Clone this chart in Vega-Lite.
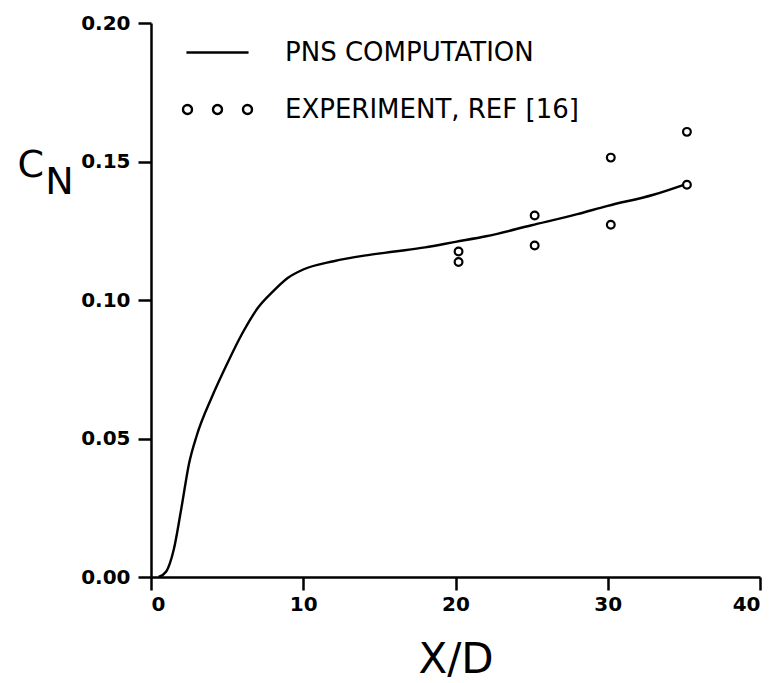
{
  "$schema": "https://vega.github.io/schema/vega-lite/v6.json",
  "autosize": {"type": "none"},
  "padding": {"left": 151, "top": 23, "right": 15, "bottom": 106},
  "width": 609,
  "height": 554,
  "background": "white",
  "config": {
    "view": {"stroke": null},
    "font": "DejaVu Sans",
    "axis": {"domainColor": "black", "domainWidth": 2.5, "tickColor": "black", "tickWidth": 2.5, "tickSize": 13, "grid": false, "labelColor": "black", "titleColor": "black", "labelFont": "DejaVu Sans", "labelFontWeight": "bold", "labelFontSize": 20, "titleFont": "DejaVu Sans", "titleFontWeight": "normal", "titleFontSize": 42}
  },
  "datasets": {
    "pns": [
      {"xd": 0.5, "cn": 0.0},
      {"xd": 1.0, "cn": 0.002},
      {"xd": 1.5, "cn": 0.01},
      {"xd": 2.0, "cn": 0.025},
      {"xd": 2.5, "cn": 0.041},
      {"xd": 3.0, "cn": 0.051},
      {"xd": 4.0, "cn": 0.065},
      {"xd": 5.0, "cn": 0.077},
      {"xd": 6.0, "cn": 0.088},
      {"xd": 7.0, "cn": 0.097},
      {"xd": 8.0, "cn": 0.103},
      {"xd": 9.0, "cn": 0.108},
      {"xd": 10.0, "cn": 0.111},
      {"xd": 12.0, "cn": 0.114},
      {"xd": 14.0, "cn": 0.116},
      {"xd": 16.0, "cn": 0.1175},
      {"xd": 18.0, "cn": 0.119},
      {"xd": 20.0, "cn": 0.121},
      {"xd": 22.0, "cn": 0.123},
      {"xd": 25.0, "cn": 0.127},
      {"xd": 28.0, "cn": 0.131},
      {"xd": 30.0, "cn": 0.134},
      {"xd": 33.0, "cn": 0.138},
      {"xd": 35.0, "cn": 0.1416}
    ],
    "exp": [
      {"xd": 20.2, "cn": 0.1175, "series": "EXPERIMENT, REF [16]"},
      {"xd": 20.2, "cn": 0.1137, "series": "EXPERIMENT, REF [16]"},
      {"xd": 25.2, "cn": 0.1305, "series": "EXPERIMENT, REF [16]"},
      {"xd": 25.2, "cn": 0.1197, "series": "EXPERIMENT, REF [16]"},
      {"xd": 30.2, "cn": 0.1514, "series": "EXPERIMENT, REF [16]"},
      {"xd": 30.2, "cn": 0.1272, "series": "EXPERIMENT, REF [16]"},
      {"xd": 35.2, "cn": 0.1607, "series": "EXPERIMENT, REF [16]"},
      {"xd": 35.2, "cn": 0.1416, "series": "EXPERIMENT, REF [16]"}
    ]
  },
  "layer": [
    {
      "data": {"name": "pns"},
      "mark": {"type": "line", "color": "black", "strokeWidth": 2.4, "interpolate": "monotone"},
      "encoding": {
        "x": {"field": "xd", "type": "quantitative", "scale": {"domain": [0, 40], "nice": false}, "axis": {"values": [0, 10, 20, 30, 40], "labelPadding": 4, "title": "X/D", "titleY": 95, "titleBaseline": "alphabetic"}},
        "y": {"field": "cn", "type": "quantitative", "scale": {"domain": [0, 0.2], "nice": false}, "axis": {"values": [0, 0.05, 0.1, 0.15, 0.2], "format": ".2f", "labelPadding": 8, "title": ["C", "\u2800N"], "titleAngle": 0, "titleAlign": "left", "titleBaseline": "alphabetic", "titleX": -134, "titleY": 153, "titleLineHeight": 17, "titleFontSize": 38}}
      }
    },
    {
      "data": {"name": "exp"},
      "mark": {"type": "point", "shape": "circle", "filled": false, "color": "black", "size": 60, "strokeWidth": 2.2, "opacity": 1},
      "encoding": {
        "x": {"field": "xd", "type": "quantitative"},
        "y": {"field": "cn", "type": "quantitative"}
      }
    },
    {
      "data": {"name": "exp"},
      "transform": [{"filter": "false"}],
      "mark": {"type": "point", "filled": false, "color": "black", "strokeWidth": 2.2, "opacity": 1},
      "encoding": {
        "x": {"field": "xd", "type": "quantitative"},
        "y": {"field": "cn", "type": "quantitative"},
        "shape": {
          "field": "series", "type": "nominal",
          "scale": {"domain": ["PNS COMPUTATION", "EXPERIMENT, REF [16]"], "range": ["M-2.07,0L2.07,0", "M-2.3,0a0.3,0.3 0 1,0 0.6,0a0.3,0.3 0 1,0 -0.6,0M-0.3,0a0.3,0.3 0 1,0 0.6,0a0.3,0.3 0 1,0 -0.6,0M1.7,0a0.3,0.3 0 1,0 0.6,0a0.3,0.3 0 1,0 -0.6,0"]},
          "legend": {
            "title": null,
            "orient": "none",
            "legendX": 50,
            "legendY": 13,
            "symbolSize": 900,
            "symbolStrokeWidth": 2.4,
            "symbolStrokeColor": "black",
            "symbolOpacity": 1,
            "labelFont": "DejaVu Sans",
            "labelFontSize": 26,
            "labelColor": "black",
            "labelOffset": 51,
            "rowPadding": 27,
            "labelLimit": 500
          }
        }
      }
    }
  ]
}
